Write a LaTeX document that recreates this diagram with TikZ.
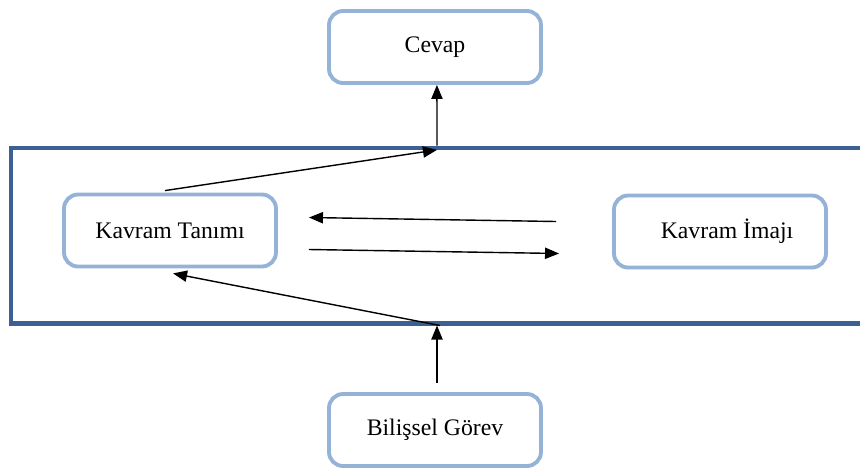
\documentclass[tikz,border=0pt]{standalone}
\usepackage{fontspec}
\setmainfont{Liberation Serif}
\usetikzlibrary{arrows.meta,positioning}

\definecolor{boxblue}{HTML}{95B3D7}
\definecolor{frameblue}{HTML}{3B6091}

\begin{document}
\begin{tikzpicture}[
    x=0.02cm, y=-0.02cm,
    concept/.style={
        draw=boxblue,
        fill=white,
        rectangle,
        rounded corners=0.28cm,
        line width=2.2pt,
        minimum width=4.24cm,
        minimum height=1.44cm,
        align=center,
        font=\fontsize{13.5}{16}\selectfont
    },
    layer/.style={
        draw=frameblue,
        rectangle,
        line width=2.3pt,
        minimum width=17.4cm,
        minimum height=3.52cm
    },
    arrow/.style={
        -{Triangle[length=8pt,width=6.4pt]},
        line width=0.8pt
    }
]
\clip (0,0) rectangle (860,468);

% Layer
\node[layer] (frame) at (446,235.5) {};

% Boxes
\node[concept] (cevap) at (435,47) {Cevap};
\node[concept] (tanim) at (170,230.5) {Kavram Tanımı};
\node[concept] (imaj) at (720,231.5) {\hspace{8pt}Kavram İmajı};
\node[concept] (gorev) at (435,430) {Bilişsel Görev};

% Layer to answer
\draw[arrow] (frame.north -| 437,0) -- ([xshift=1.1pt]cevap.south);

% Definition to layer
\draw[arrow] ([shift={(-5,-2)}]tanim.north) -- ([yshift=-2.5pt]frame.north -| 437,0);

% Image and definition
\draw[arrow] ([shift={(-56,-10)}]imaj.west) -- ([shift={(31,-13)}]tanim.east);
\draw[arrow] ([shift={(31,19)}]tanim.east) -- ([shift={(-53,22)}]imaj.west);

% Task to layer
\draw[arrow] ([shift={(2,-9)}]gorev.north) -- (frame.south -| 437,0);

% Layer to definition
\draw[arrow] (frame.south -| 440,0) -- ([shift={(3,5)}]tanim.south);

\end{tikzpicture}
\end{document}
